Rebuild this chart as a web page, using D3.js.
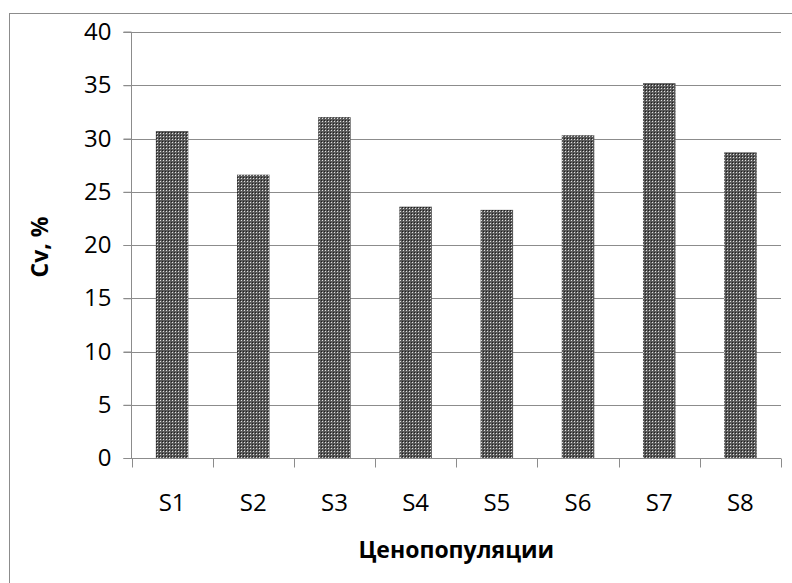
<!DOCTYPE html>
<html><head><meta charset="utf-8">
<script src="https://cdn.jsdelivr.net/npm/d3@7"></script>
<style>body{margin:0;background:#fff}svg{display:block}</style>
</head><body>
<script>
const categories = ["S1","S2","S3","S4","S5","S6","S7","S8"];
const values = [30.7, 26.6, 32.0, 23.6, 23.3, 30.3, 35.2, 28.7];
const yTicks = [0,5,10,15,20,25,30,35,40];
const yTitle = "Cv, %";
const xTitle = "Ценопопуляции";

const W = 792, H = 583;
const svg = d3.select("body").append("svg").attr("width", W).attr("height", H);
const font = "Open Sans, Lato, sans-serif";

const defs = svg.append("defs");
const pat = defs.append("pattern").attr("id","dots").attr("patternUnits","userSpaceOnUse")
  .attr("width",3).attr("height",3);
pat.append("rect").attr("width",3).attr("height",3).attr("fill","#5a5a5a");
pat.append("rect").attr("x",1).attr("y",1).attr("width",1).attr("height",1).attr("fill","#e0e0e0");
pat.append("rect").attr("x",0).attr("y",0).attr("width",1).attr("height",1).attr("fill","#1e1e1e");

// outer frame
svg.append("rect").attr("x",9.5).attr("y",13.5).attr("width",W).attr("height",H)
  .attr("fill","none").attr("stroke","#8c8c8c").attr("stroke-width",1);

const m = {left:131.5, right:781, top:32, bottom:458};
const x = d3.scaleBand().domain(categories).range([m.left, m.right]).paddingInner(0.6).paddingOuter(0.3);
const xb = d3.scaleBand().domain(categories).range([m.left, m.right]);
const y = d3.scaleLinear().domain([0,40]).range([m.bottom, m.top]);

// gridlines
svg.append("g").selectAll("line").data(yTicks.filter(d=>d>0)).join("line")
  .attr("x1", m.left - 8).attr("x2", m.right)
  .attr("y1", d=>Math.round(y(d))+0.5).attr("y2", d=>Math.round(y(d))+0.5)
  .attr("stroke","#8c8c8c").attr("stroke-width",1);

// bars
svg.append("g").selectAll("rect").data(values).join("rect")
  .attr("x",(d,i)=>x(categories[i])).attr("width",x.bandwidth())
  .attr("y",d=>y(d)).attr("height",d=>y(0)-y(d))
  .attr("fill","url(#dots)");

// y axis
const ya = d3.axisLeft(y).tickValues(yTicks).tickSize(8).tickPadding(12);
const gy = svg.append("g").attr("transform",`translate(${m.left},0)`).call(ya);
gy.select(".domain").attr("stroke","#8c8c8c").attr("d",`M-8,${y(40)}H0V${y(0)}`);
gy.selectAll(".tick line").attr("stroke","#8c8c8c");
gy.selectAll(".tick text").attr("font-family",font).attr("font-size",24).attr("fill","#000");

// x axis
const gx = svg.append("g").attr("transform",`translate(0,${Math.round(y(0))+0.5})`);
gx.append("line").attr("x1",m.left-8).attr("x2",m.right).attr("stroke","#8c8c8c");
const bounds = categories.map(c=>xb(c)).concat([m.right]);
gx.selectAll("line.t").data(bounds).join("line").attr("class","t")
  .attr("x1",d=>Math.round(d)+0.5).attr("x2",d=>Math.round(d)+0.5).attr("y1",0).attr("y2",9)
  .attr("stroke","#8c8c8c");
gx.selectAll("text").data(categories).join("text")
  .attr("x",d=>xb(d)+xb.bandwidth()/2).attr("y",52)
  .attr("text-anchor","middle").attr("font-family",font).attr("font-size",24).text(d=>d);

// titles
svg.append("text").attr("x",(m.left+m.right)/2).attr("y",558).attr("text-anchor","middle")
  .attr("font-family",font).attr("font-size",23).attr("font-weight","bold").text(xTitle);
svg.append("text").attr("transform",`translate(48,${(m.top+m.bottom)/2+2}) rotate(-90)`)
  .attr("text-anchor","middle").attr("font-family",font).attr("font-size",23).attr("font-weight","bold").text(yTitle);
</script>
</body></html>
